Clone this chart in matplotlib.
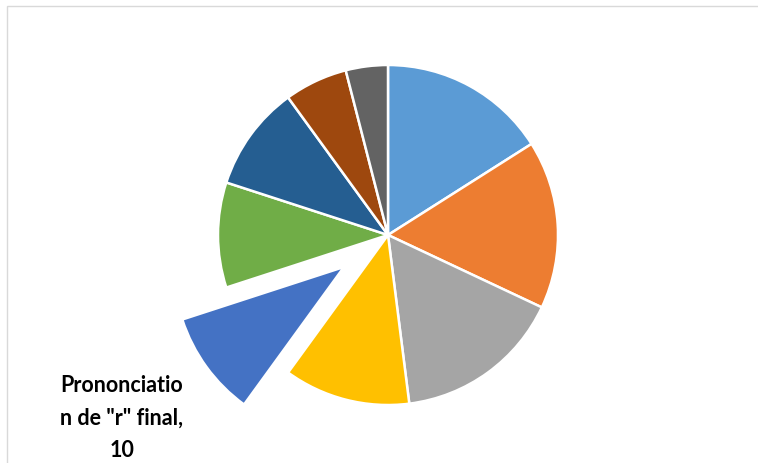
import matplotlib.pyplot as plt
from matplotlib.patches import Rectangle

# slice values, clockwise from 12 o'clock
values = [16, 16, 16, 12, 10, 10, 10, 6, 4]
colors = ["#5B9BD5", "#ED7D31", "#A5A5A5", "#FFC000", "#4472C4",
          "#70AD47", "#255E91", "#9E480E", "#636363"]
label_idx = 4
label_name = 'Prononciation de "r" final'

W, H = 758, 463
cx, cy, r = 388, 463 - 235, 170  # pixel centre / radius

fig = plt.figure(figsize=(W / 100, H / 100), dpi=100)
ax = fig.add_axes([0, 0, 1, 1])

explode = [0.32 if i == label_idx else 0 for i in range(len(values))]
wedges, _ = ax.pie(values, colors=colors, startangle=90, counterclock=False,
                   explode=explode, radius=1,
                   wedgeprops=dict(edgecolor="white", linewidth=1.8))

ax.set_xlim(-cx / r, (W - cx) / r)
ax.set_ylim(-cy / r, (H - cy) / r)
ax.set_aspect("auto")
ax.axis("off")

# chart area frame
fig.add_artist(Rectangle((7 / W, -0.1), 1.2, 1 - 6 / H + 0.1,
                         transform=fig.transFigure, fill=False,
                         edgecolor="#D9D9D9", linewidth=1.0))

txt = label_name + ", " + str(values[label_idx])
wrapped = txt[:12] + "\n" + txt[12:txt.index(",") + 1] + "\n" + str(values[label_idx])
ax.text((122 - cx) / r, ((H - 418) - cy) / r, wrapped, ha="center", va="center",
        fontsize=15.5, fontweight="bold", family="Lato", color="#000000",
        linespacing=1.65)

fig.savefig("out.png", dpi=100)
